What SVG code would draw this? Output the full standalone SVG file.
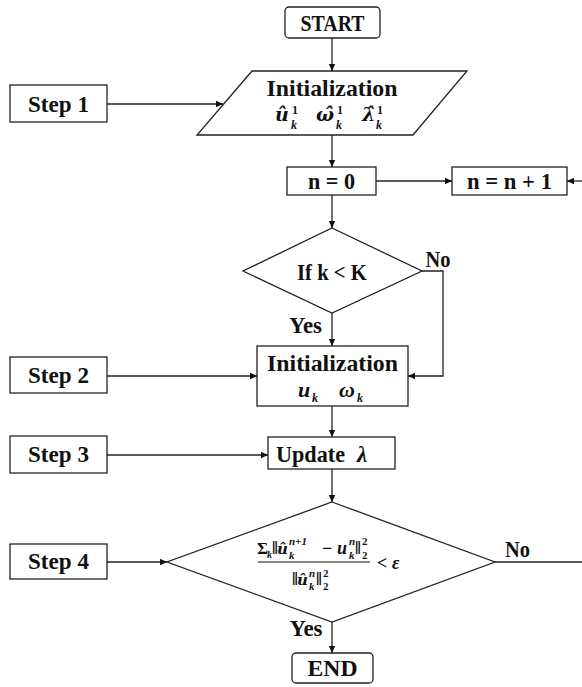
<svg xmlns="http://www.w3.org/2000/svg" width="582" height="687" viewBox="0 0 582 687">
<style>
.box{fill:#fff;stroke:#222;stroke-width:1.3}
.t{font-family:"Liberation Serif",serif;font-weight:bold;font-size:24px;fill:#111;text-anchor:middle}
.m{font-family:"Liberation Serif",serif;font-weight:bold;font-style:italic;fill:#111}
.h{font-family:"DejaVu Serif",serif;font-weight:bold;font-style:italic;fill:#111}
.r{font-family:"Liberation Serif",serif;font-weight:bold;fill:#111}
.c{fill:none;stroke:#222;stroke-width:1.3}
</style>
<defs>
<marker id="ah" markerWidth="8" markerHeight="8" refX="7" refY="4" orient="auto" markerUnits="userSpaceOnUse">
<path d="M0,0.8 L7,4 L0,7.2 Z" fill="#111"/>
</marker>
</defs>

<g id="connectors">
<line class="c" x1="332" y1="38" x2="332" y2="71" marker-end="url(#ah)"/>
<line class="c" x1="107" y1="104" x2="223" y2="104" marker-end="url(#ah)"/>
<line class="c" x1="332" y1="135" x2="332" y2="167" marker-end="url(#ah)"/>
<line class="c" x1="376" y1="181" x2="452" y2="181" marker-end="url(#ah)"/>
<line class="c" x1="582" y1="181" x2="567" y2="181" marker-end="url(#ah)"/>
<line class="c" x1="332" y1="195" x2="332" y2="228" marker-end="url(#ah)"/>
<line class="c" x1="332" y1="313" x2="332" y2="346" marker-end="url(#ah)"/>
<polyline class="c" points="422,271 443,271 443,376 408,376" marker-end="url(#ah)"/>
<line class="c" x1="107" y1="376" x2="257" y2="376" marker-end="url(#ah)"/>
<line class="c" x1="107" y1="455" x2="268" y2="455" marker-end="url(#ah)"/>
<line class="c" x1="332" y1="406" x2="332" y2="437" marker-end="url(#ah)"/>
<line class="c" x1="332" y1="469" x2="332" y2="502" marker-end="url(#ah)"/>
<line class="c" x1="107" y1="562" x2="167" y2="562" marker-end="url(#ah)"/>
<line class="c" x1="495" y1="562" x2="582" y2="562"/>
<line class="c" x1="332" y1="622" x2="332" y2="653" marker-end="url(#ah)"/>
<text class="t" x="438" y="267" textLength="25" lengthAdjust="spacingAndGlyphs">No</text>
<text class="t" x="305.5" y="333" textLength="33" lengthAdjust="spacingAndGlyphs">Yes</text>
<text class="t" x="517.5" y="557" textLength="25" lengthAdjust="spacingAndGlyphs">No</text>
<text class="t" x="306" y="636" textLength="33" lengthAdjust="spacingAndGlyphs">Yes</text>
</g>

<g id="start">
<rect class="box" x="285" y="7" width="95" height="31" rx="4"/>
<text class="t" x="332.5" y="31" textLength="64" lengthAdjust="spacingAndGlyphs">START</text>
</g>

<g id="init1">
<polygon class="box" points="252,71 467,71 413,135 197,135"/>
<text class="t" x="332" y="96" textLength="131" lengthAdjust="spacingAndGlyphs">Initialization</text>
<text class="h" x="275" y="121" font-size="19">û</text>
<text class="r" x="292" y="114" font-size="12">1</text>
<text class="m" x="291" y="129" font-size="12">k</text>
<text class="h" x="316" y="121" font-size="19">ω̂</text>
<text class="r" x="337" y="114" font-size="12">1</text>
<text class="m" x="336" y="129" font-size="12">k</text>
<text class="h" x="362" y="121" font-size="19">λ̂</text>
<text class="r" x="377" y="114" font-size="12">1</text>
<text class="m" x="376" y="129" font-size="12">k</text>
</g>

<g id="step1">
<rect class="box" x="10" y="85" width="97" height="37"/>
<text class="t" x="58.5" y="112" textLength="61" lengthAdjust="spacingAndGlyphs">Step 1</text>
</g>

<g id="n0">
<rect class="box" x="287" y="167" width="89" height="28"/>
<text class="t" x="331.5" y="189" textLength="47" lengthAdjust="spacingAndGlyphs">n = 0</text>
</g>

<g id="ninc">
<rect class="box" x="452" y="167" width="115" height="28"/>
<text class="t" x="509.5" y="189" textLength="85" lengthAdjust="spacingAndGlyphs">n = n + 1</text>
</g>

<g id="cond1">
<polygon class="box" points="332,228 422,271 332,313 243,271"/>
<text class="t" x="332" y="280" textLength="70" lengthAdjust="spacingAndGlyphs">If k &lt; K</text>
</g>

<g id="init2">
<rect class="box" x="257" y="346" width="151" height="60"/>
<text class="t" x="332.5" y="371" textLength="131" lengthAdjust="spacingAndGlyphs">Initialization</text>
<text class="m" x="298" y="397" font-size="22">u</text>
<text class="m" x="312" y="402" font-size="12">k</text>
<text class="m" x="339" y="397" font-size="22">ω</text>
<text class="m" x="357" y="402" font-size="12">k</text>
</g>

<g id="step2">
<rect class="box" x="10" y="357" width="97" height="36"/>
<text class="t" x="58.5" y="383" textLength="61" lengthAdjust="spacingAndGlyphs">Step 2</text>
</g>

<g id="step3">
<rect class="box" x="10" y="436" width="97" height="37"/>
<text class="t" x="58.5" y="462" textLength="61" lengthAdjust="spacingAndGlyphs">Step 3</text>
</g>

<g id="update">
<rect class="box" x="268" y="437" width="127" height="32"/>
<text class="r" x="276" y="462" font-size="24" textLength="69" lengthAdjust="spacingAndGlyphs">Update</text>
<text class="m" x="357" y="462" font-size="23">λ</text>
</g>

<g id="cond2">
<polygon class="box" points="332,502 495,562 332,622 167,562"/>
<text class="r" x="257" y="554" font-size="17">Σ</text>
<text class="m" x="267" y="558" font-size="10">k</text>
<text class="r" x="272" y="554" font-size="18">‖</text>
<text class="h" x="277" y="554" font-size="15">û</text>
<text class="m" x="289" y="545" font-size="11">n+1</text>
<text class="m" x="289" y="559" font-size="11">k</text>
<text class="r" x="322" y="554" font-size="18">−</text>
<text class="m" x="337" y="554" font-size="18">u</text>
<text class="m" x="349" y="545" font-size="11">n</text>
<text class="m" x="349" y="559" font-size="11">k</text>
<text class="r" x="355" y="554" font-size="18">‖</text>
<text class="r" x="362" y="545" font-size="11">2</text>
<text class="r" x="362" y="559" font-size="11">2</text>
<line x1="258" y1="562" x2="370" y2="562" stroke="#111" stroke-width="1.2"/>
<text class="r" x="292" y="585" font-size="18">‖</text>
<text class="h" x="297" y="585" font-size="15">û</text>
<text class="m" x="309" y="577" font-size="11">n</text>
<text class="m" x="309" y="590" font-size="11">k</text>
<text class="r" x="316" y="585" font-size="18">‖</text>
<text class="r" x="323" y="577" font-size="11">2</text>
<text class="r" x="323" y="590" font-size="11">2</text>
<text class="r" x="377" y="569" font-size="18">&lt;</text>
<text class="m" x="392" y="569" font-size="18">ε</text>
</g>

<g id="step4">
<rect class="box" x="10" y="544" width="97" height="35"/>
<text class="t" x="58.5" y="569" textLength="61" lengthAdjust="spacingAndGlyphs">Step 4</text>
</g>

<g id="end">
<rect class="box" x="292" y="653" width="81" height="30" rx="4"/>
<text class="t" x="332.5" y="676" textLength="50" lengthAdjust="spacingAndGlyphs">END</text>
</g>
</svg>
